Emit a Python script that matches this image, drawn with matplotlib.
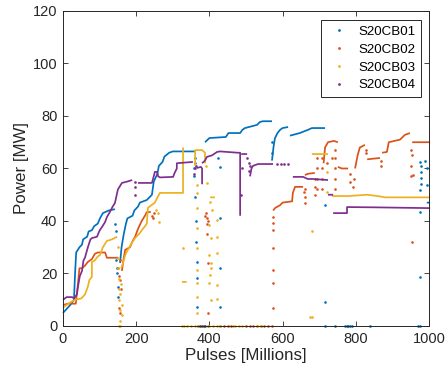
import numpy as np
import matplotlib
matplotlib.use("Agg")
import matplotlib.pyplot as plt
from matplotlib.lines import Line2D

plt.rcParams['font.family'] = ['Liberation Sans', 'DejaVu Sans']

series_names = ["S20CB01", "S20CB02", "S20CB03", "S20CB04"]
series_colors = ["#0072BD", "#D95319", "#EDB120", "#7E2F8E"]

x_ticks = [0, 200, 400, 600, 800, 1000]
y_ticks = [0, 20, 40, 60, 80, 100, 120]

# Continuous runs of (pulses [millions], power [MW]); None breaks a run
cb01_trace = [
    (0, 5), (20, 8), (30, 10), (33, 20), (36, 28), (45, 30), (52, 31), (55, 33),
    (66, 34), (70, 36), (79, 36.5), (85, 38), (95, 39), (101, 41), (109, 43),
    (125, 44), (142, 44.5), None,
    (156, 24), (160, 30), (166, 35), (172, 39), (176, 41), (190, 42), (195, 44),
    (205, 45.5), (210, 47), (229, 48), (243, 50), (248, 55), (258, 58), (262, 61),
    (272, 62.5), (277, 64.5), (290, 66), (300, 66.5), (361, 66.5), None,
    (388, 70), (400, 71.6), (445, 72), (452, 73.5), (484, 73.5), (490, 74.7),
    (497, 75.4), (530, 76.6), (538, 77.7), (546, 78), (571, 78), None,
    (571, 63), (575, 68), (579, 71.5), (586, 73.5), (593, 74.7), (600, 75.4),
    (615, 75.8), None,
    (620, 72.5), (647, 73.5), (669, 74.7), (680, 75.4), (716, 75.4), None,
    (994, 47), (1003, 47),
]
cb01_dots = [
    (142, 39), (144, 36), (146, 25), (147, 22), (148, 20), (150, 15), (150, 11),
    (358, 57), (358, 60), (361, 64), (361, 62), (361, 49), (363, 40), (363, 32),
    (365, 24.4), (366, 18.3), (366, 7.2),
    (423, 64), (429, 60.6), (429, 41), (429, 22), (429, 7.2),
    (571, 70), (571, 66), (716, 46), (716, 9),
    (975, 62.5), (978, 61), (978, 58.7), (978, 56.4), (978, 54), (994, 53.7),
    (975, 51.8), (975, 43.4), (975, 18.7), (990, 63), (994, 60),
    (370, 0), (375, 0), (380, 0), (385, 0), (388, 0), (716, 0), (743, 0),
    (770, 0), (775, 0), (780, 0), (785, 0), (790, 0), (839, 0), (970, 0), (975, 0),
]

cb02_trace = [
    (0, 8), (14, 8.5), (35, 8.5), (40, 15), (45, 22), (52, 22), (60, 23),
    (68, 24.4), (79, 25.5), (87, 27.5), (95, 28), (115, 28), (120, 26), (150, 26), None,
    (161, 21), (166, 26), (170, 29), (183, 30), (189, 32), (197, 34), (205, 37),
    (215, 40), (224, 42), (229, 43.4), (240, 43.4), None,
    (574, 44), (580, 45), (593, 46), (600, 47), (626, 47.5), (628, 50.7),
    (634, 53), (656, 53), None,
    (661, 57.5), (670, 58), (688, 58.3), None,
    (712, 62), (716, 68), (724, 70), (740, 70.5), (751, 70), None,
    (751, 60.6), (762, 60), (779, 60), None,
    (798, 60), (805, 65), (811, 68), (825, 69), None,
    (831, 63.5), (866, 64), None,
    (872, 66), (885, 66.3), (890, 70), (921, 71), (934, 72.8), (948, 73.5), None,
    (954, 70), (1003, 70),
]
cb02_dots = [
    (150, 22), (153, 19), (156, 25), (156, 17.5), (158, 14), (156, 5), (154, 7),
    (244, 42), (247, 41), (250, 43),
    (388, 42), (390, 43), (393, 41), (395, 40), (393, 39), (393, 35), (395, 24), (395, 5),
    (375, 0), (385, 0), (395, 0), (430, 0), (440, 0), (450, 0), (460, 0),
    (500, 0), (510, 0), (520, 0), (530, 0), (540, 0), (550, 0), (560, 0), (570, 0),
    (574, 6.9), (574, 16.4), (574, 21.3), (574, 29.7), (574, 36.6), (574, 39.2), (574, 41.5),
    (658, 51), (660, 49), (661, 47), (661, 52),
    (688, 50), (688, 53), (688, 56),
    (694, 52), (694, 56), (694, 60), (694, 64),
    (708, 52), (708, 56), (708, 60), (708, 64),
    (721, 62), (735, 64),
    (743, 52), (743, 56), (743, 60), (743, 64), (743, 67),
    (784, 58), (784, 55), (792, 53), (795, 56),
    (827, 66), (829, 67), (869, 61), (869, 63),
    (950, 57), (952, 61), (954, 65), (956, 57.5), (954, 32), (952, 67),
]

cb03_trace = [
    (0, 7), (20, 9), (33, 10), (50, 10.5), (60, 12), (68, 15), (72, 17.5), (79, 18.7),
    (79, 24.4), (87, 25), (95, 26.5), (101, 27), (109, 30), (120, 32.4), (134, 33),
    (148, 34), None,
    (159, 22), (164, 24), (170, 27), (175, 28.5), (180, 29.7), (188, 31.6),
    (197, 33.5), (210, 35.4), (216, 36.6), (224, 38), (229, 39), (232, 45),
    (251, 47), (258, 49), (265, 50.7), (328, 50.7), (328, 68), None,
    (361, 61), (361, 67), (380, 67), (388, 66), (388, 62), None,
    (402, 49), (415, 49), None,
    (325, 16.8), (338, 16.8), None,
    (680, 65.5), (724, 65.5), None,
    (735, 49.5), (780, 49.5), (830, 50), (860, 49.5), (880, 49), (1003, 49),
]
cb03_dots = [
    (150, 30), (150, 26), (151, 22), (152, 18), (153, 14), (154, 10), (155, 6),
    (156, 2), (152, 0), (156, 0), (157, 12), (160, 8), (162, 4), (158, 16),
    (254, 44), (260, 43), (262, 39.6),
    (366, 53.7), (366, 50.7), (366, 45), (366, 37.3), (366, 29.7), (366, 21.3),
    (366, 16.4), (366, 11), (366, 5),
    (393, 54.5), (402, 47.2), (407, 44.2), (398, 38.5), (404, 33.5), (400, 27),
    (404, 24), (405, 22), (402, 19.4), (400, 16.4), (404, 9.9),
    (421, 40.4), (421, 33.9), (421, 27.8), (421, 15.6), (421, 10.3),
    (328, 29.7), (390, 61),
    (325, 0), (330, 0), (340, 0), (350, 0), (360, 0), (370, 0), (400, 0), (410, 0),
    (420, 0), (428, 0), (465, 0), (470, 0), (480, 0), (490, 0), (530, 0), (540, 0),
    (721, 58.7), (721, 51), (680, 36), (680, 3.5), (675, 3.5),
]

cb04_trace = [
    (0, 10), (10, 11), (25, 11), (30, 10.5), (38, 12), (41, 15), (46, 19), (52, 21),
    (56, 25), (60, 26), (64, 28), (68, 30), (75, 33), (79, 33.5), (93, 34),
    (97, 35.4), (101, 36.6), (108, 38), (115, 39.6), (120, 41.5), (128, 43.4),
    (135, 45.3), (142, 46.9), (150, 52), (161, 54.5), (175, 55), (189, 55.6), None,
    (205, 54.5), (243, 54.5), (246, 56), (251, 58.7), (257, 58.7), (260, 57),
    (265, 56.6), (301, 56.8), (304, 58), (311, 60), (311, 62), (355, 62.5), None,
    (366, 60.2), (377, 60.6), (380, 60), (380, 54), None,
    (380, 62), (388, 63), (393, 64.4), (407, 65), (421, 66.3), (429, 66.5),
    (478, 66), (484, 66), (484, 42), None,
    (487, 65.5), (503, 65.5), None,
    (511, 57), (515, 60), (519, 61), (533, 61.7), (574, 61.7), None,
    (628, 56.8), (656, 56.8), (669, 56), (683, 56), (724, 55.6), None,
    (724, 50), (738, 50), None,
    (738, 43), (776, 43), (776, 45.3), (850, 45.2), (1003, 44.9),
]
cb04_dots = [
    (197, 50), (197, 53), (197, 55), (358, 58), (360, 60), (363, 61),
    (503, 64), (507, 62), (511, 61), (509, 59), (488, 60), (486, 50),
    (585, 61.7), (595, 61.7), (605, 61.7), (615, 61.7),
]

traces = [cb01_trace, cb02_trace, cb03_trace, cb04_trace]
dots = [cb01_dots, cb02_dots, cb03_dots, cb04_dots]


def unpack(points):
    xs = [np.nan if p is None else p[0] for p in points]
    ys = [np.nan if p is None else p[1] for p in points]
    return np.array(xs, float), np.array(ys, float)


fig = plt.figure(figsize=(4.48, 3.76), dpi=100)
ax = fig.add_axes([0.1406, 0.133, 0.817, 0.8378])

for trace, pts, color in zip(traces, dots, series_colors):
    tx, ty = unpack(trace)
    ax.plot(tx, ty, color=color, lw=1.25, solid_capstyle='butt', clip_on=False)
    dx, dy = unpack(pts)
    ax.plot(dx, dy, ls='none', marker='o', ms=1.9, mew=0, color=color, clip_on=False)

ax.set_xlim(0, 1000)
ax.set_ylim(0, 120)
ax.set_xticks(x_ticks)
ax.set_yticks(y_ticks)
axis_gray = '#262626'
ax.tick_params(direction='in', length=3.5, width=0.6, colors=axis_gray,
               labelsize=10.5, top=True, right=True, pad=4)
for s in ax.spines.values():
    s.set_color(axis_gray)
    s.set_linewidth(0.7)
ax.set_xlabel('Pulses [Millions]', fontsize=12.2, color=axis_gray, labelpad=2)
ax.set_ylabel('Power [MW]', fontsize=12.2, color=axis_gray, labelpad=3)

handles = [Line2D([], [], ls='none', marker='o', ms=2.0, mew=0, color=c)
           for c in series_colors]
leg = ax.legend(handles, series_names, loc='upper right',
                bbox_to_anchor=(1 - 8 / 366, 1 - 9 / 315), borderaxespad=0,
                fancybox=False, fontsize=9.6, handlelength=2.0, handletextpad=0.45,
                labelspacing=0.42, borderpad=0.4, framealpha=1)
leg.get_frame().set_edgecolor('#262626')
leg.get_frame().set_linewidth(0.7)

fig.savefig('out.png', dpi=100)
